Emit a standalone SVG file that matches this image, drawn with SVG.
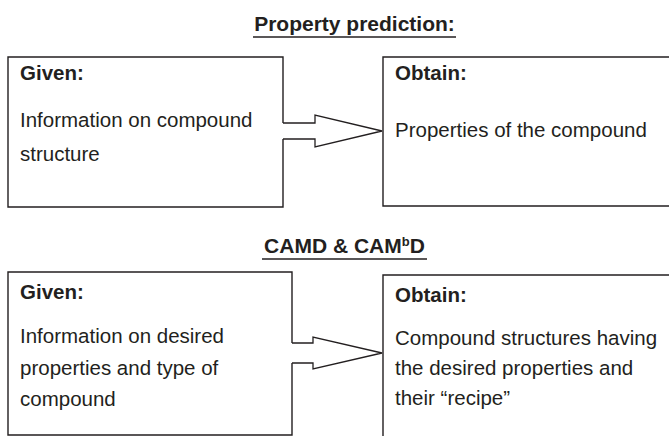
<svg xmlns="http://www.w3.org/2000/svg" width="669" height="436" viewBox="0 0 669 436">
  <style>
    text { font-family: "Liberation Sans", Arial, Helvetica, sans-serif; fill: #231f20; }
    .title { font-size: 21px; font-weight: bold; }
    .head { font-size: 20.5px; font-weight: bold; }
    .body { font-size: 20.5px; }
    .box { fill: none; stroke: #231f20; stroke-width: 1.4; }
    .ul { stroke: #231f20; stroke-width: 1.6; }
    .arrow { fill: #fff; stroke: #231f20; stroke-width: 1.3; stroke-linejoin: miter; }
  </style>
  <rect width="669" height="436" fill="#fff"/>

  <g id="title-top">
    <text class="title" x="354.5" y="31" text-anchor="middle">Property prediction:</text>
    <line class="ul" x1="253" y1="37" x2="456" y2="37"/>
  </g>

  <g id="given-top">
    <path class="box" d="M283 123 V57 H8 V207 H283 V139"/>
    <text class="head" x="20" y="80">Given:</text>
    <text class="body" x="20" y="127">Information on compound</text>
    <text class="body" x="20" y="161">structure</text>
  </g>

  <g id="obtain-top">
    <path class="box" d="M670 57 H383 V206 H670"/>
    <text class="head" x="395" y="80">Obtain:</text>
    <text class="body" x="395" y="137">Properties of the compound</text>
  </g>

  <g id="title-bottom">
    <text class="title" x="344.5" y="253" text-anchor="middle">CAMD &amp; CAM<tspan font-size="13" dy="-7">b</tspan><tspan dy="7">D</tspan></text>
    <line class="ul" x1="262" y1="259" x2="427" y2="259"/>
  </g>

  <g id="given-bottom">
    <path class="box" d="M292 343 V272 H8 V435 H292 V363"/>
    <text class="head" x="20" y="299">Given:</text>
    <text class="body" x="20" y="343">Information on desired</text>
    <text class="body" x="20" y="375">properties and type of</text>
    <text class="body" x="20" y="406">compound</text>
  </g>

  <g id="obtain-bottom">
    <path class="box" d="M670 275 H383 V437"/>
    <text class="head" x="395" y="302">Obtain:</text>
    <text class="body" x="395" y="345">Compound structures having</text>
    <text class="body" x="395" y="375">the desired properties and</text>
    <text class="body" x="395" y="405">their “recipe”</text>
  </g>

  <g id="connectors">
    <path class="arrow" d="M283 123 H315 V115 L382 131 L315 147 V139 H283"/>
    <path class="arrow" d="M292 343 H313 V337 L382 353 L313 369 V363 H292"/>
  </g>
</svg>
